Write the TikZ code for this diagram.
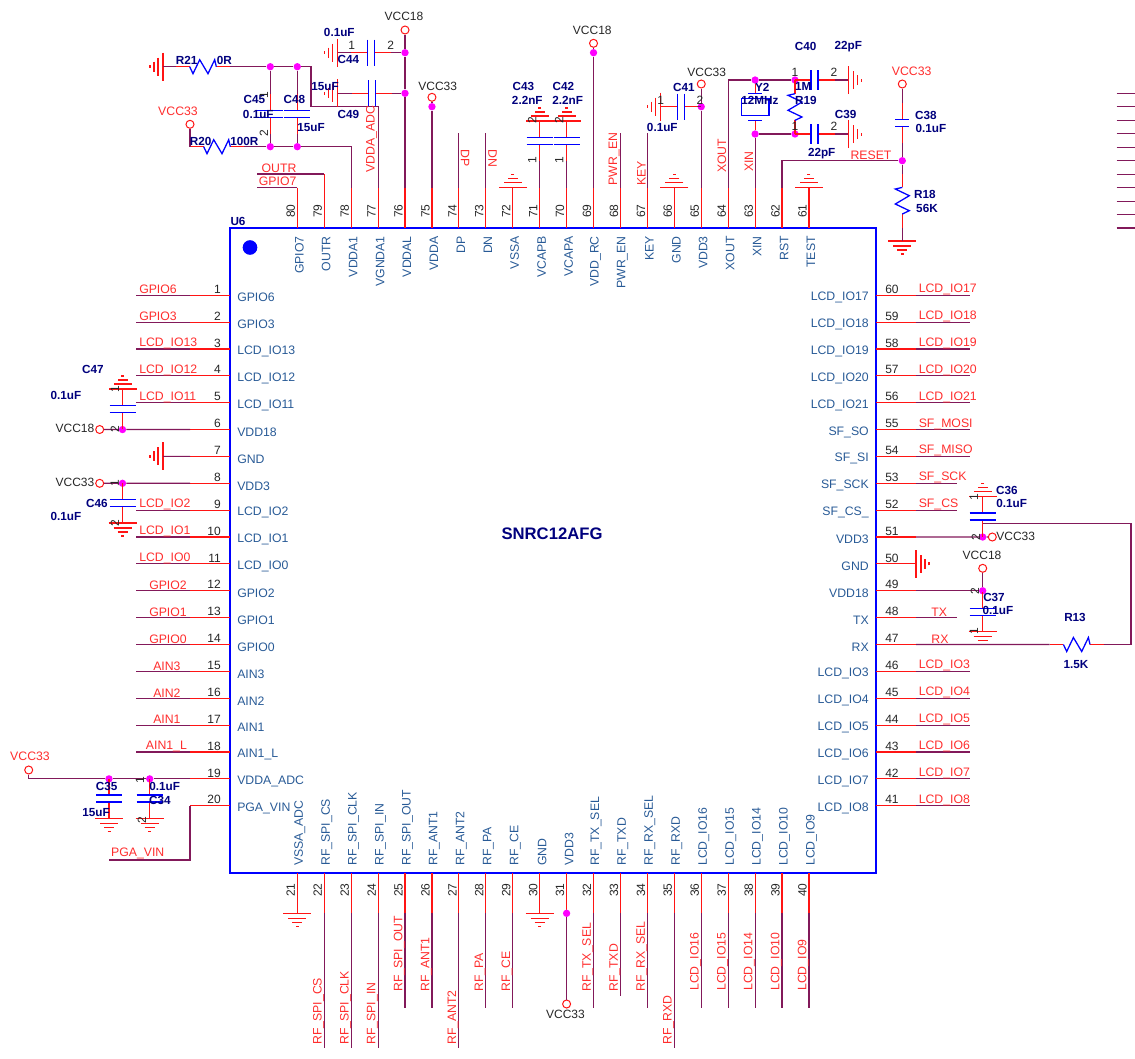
\documentclass[tikz,border=0pt]{standalone}
\usepackage{fontspec}
\setmainfont{Liberation Sans}
\usepackage{tikz}
\definecolor{wirec}{RGB}{130,25,90}
\definecolor{pinc}{RGB}{255,20,20}
\definecolor{namec}{RGB}{40,90,150}
\definecolor{netc}{RGB}{255,45,45}
\definecolor{refc}{RGB}{0,0,125}
\definecolor{dotc}{RGB}{255,0,255}
\tikzset{
  pics/gndsym/.style={code={
    \coordinate (-o) at (0,0);
    \draw[pin] (-14,0) -- (14,0) (-9,5) -- (9,5) (-5,9) -- (5,9) (-1.5,13) -- (1.5,13);}},
  pics/capsym/.style={code={
    \coordinate (-a) at (-20,0);
    \coordinate (-b) at (20,0);
    \draw[pin] (-a) -- (-3.5,0) (3.5,0) -- (-b);
    \draw[part] (-3.5,-#1/2) -- (-3.5,#1/2) (3.5,-#1/2) -- (3.5,#1/2);}},
  pics/capsym/.default=26,
  pics/ressym/.style={code={
    \coordinate (-a) at (-27,0);
    \coordinate (-b) at (27,0);
    \draw[pin] (-a) -- (-13.3,0) (13.3,0) -- (-b);
    \draw[part] (-13.3,0) -- (-10,7) -- (-3.3,-7) -- (5,7) -- (11.7,-7) -- (13.3,0);}}
}
\begin{document}
\begin{tikzpicture}[x=0.75pt,y=-0.75pt,
    pin/.style={pinc,line width=0.85pt},
    wire/.style={wirec,line width=0.85pt},
    part/.style={blue,line width=0.95pt},
    port/.style={circle,draw=pinc,line width=0.75pt,fill=white,minimum size=6pt,inner sep=0pt},
    dot/.style={circle,fill=dotc,minimum size=5.5pt,inner sep=0pt},
    chip/.style={draw=blue,line width=1.1pt,minimum width=484.5pt,minimum height=483.75pt,inner sep=0pt},
    xtal/.style={draw=blue,line width=0.95pt,minimum width=20.8pt,minimum height=13pt,inner sep=0pt},
    pname/.style={text=namec,inner sep=0pt,font=\fontsize{9.2}{11}\selectfont},
    pnum/.style={text=black!85,inner sep=0pt,font=\fontsize{9}{11}\selectfont},
    netl/.style={text=netc,inner sep=0pt,font=\fontsize{9.2}{11}\selectfont},
    pwr/.style={text=black!85,inner sep=0pt,font=\fontsize{9}{11}\selectfont},
    ref/.style={text=refc,inner sep=0pt,font=\fontsize{8.8}{11}\selectfont\bfseries}]
  \useasboundingbox (0,0) rectangle (1135,1058);
  \node[chip] (U6) at (553,550.5) {};
  \node[inner sep=0pt,text=refc,font=\fontsize{12.5}{14}\selectfont\bfseries] (title) at (552,534) {SNRC12AFG};
  \node[circle,fill=blue,minimum size=11pt,inner sep=0pt] (mark) at (250,247.5) {};

  % pins, left side
  \foreach \n/\lab in {1/GPIO6,2/GPIO3,3/LCD\_IO13,4/LCD\_IO12,5/LCD\_IO11,6/VDD18,7/GND,8/VDD3,9/LCD\_IO2,10/LCD\_IO1,
      11/LCD\_IO0,12/GPIO2,13/GPIO1,14/GPIO0,15/AIN3,16/AIN2,17/AIN1,18/AIN1\_L,19/VDDA\_ADC,20/PGA\_VIN}{
    \pgfmathsetmacro\py{295.2+26.87*(\n-1)}
    \coordinate (a\n) at (230,\py);
    \coordinate (b\n) at (190,\py);
    \draw[pin] (a\n) -- (b\n);
    \node[pnum,anchor=east] (n\n) at (221,\py-6) {\n};
    \node[pname,anchor=west] (t\n) at (237,\py+2.5) {\lab};
  }
  % pins, right side
  \foreach \n/\lab in {60/LCD\_IO17,59/LCD\_IO18,58/LCD\_IO19,57/LCD\_IO20,56/LCD\_IO21,55/SF\_SO,54/SF\_SI,53/SF\_SCK,52/SF\_CS\_,51/VDD3,
      50/GND,49/VDD18,48/TX,47/RX,46/LCD\_IO3,45/LCD\_IO4,44/LCD\_IO5,43/LCD\_IO6,42/LCD\_IO7,41/LCD\_IO8}{
    \pgfmathsetmacro\py{295.2+26.87*(60-\n)}
    \coordinate (a\n) at (876,\py);
    \coordinate (b\n) at (916,\py);
    \draw[pin] (a\n) -- (b\n);
    \node[pnum,anchor=west] (n\n) at (885,\py-6) {\n};
    \node[pname,anchor=east] (t\n) at (869,\py+2.5) {\lab};
  }
  % pins, top side
  \foreach \n/\lab in {80/GPIO7,79/OUTR,78/VDDA1,77/VGNDA1,76/VDDAL,75/VDDA,74/DP,73/DN,72/VSSA,71/VCAPB,
      70/VCAPA,69/VDD\_RC,68/PWR\_EN,67/KEY,66/GND,65/VDD3,64/XOUT,63/XIN,62/RST,61/TEST}{
    \pgfmathsetmacro\px{297.3+26.93*(80-\n)}
    \coordinate (a\n) at (\px,228);
    \coordinate (b\n) at (\px,187.7);
    \draw[pin] (a\n) -- (b\n);
    \node[pnum,rotate=90] (n\n) at (\px-6.5,211) {\n};
    \node[pname,rotate=90,anchor=east] (t\n) at (\px+2,236) {\lab};
  }
  % pins, bottom side
  \foreach \n/\lab in {21/VSSA\_ADC,22/RF\_SPI\_CS,23/RF\_SPI\_CLK,24/RF\_SPI\_IN,25/RF\_SPI\_OUT,26/RF\_ANT1,27/RF\_ANT2,28/RF\_PA,29/RF\_CE,30/GND,
      31/VDD3,32/RF\_TX\_SEL,33/RF\_TXD,34/RF\_RX\_SEL,35/RF\_RXD,36/LCD\_IO16,37/LCD\_IO15,38/LCD\_IO14,39/LCD\_IO10,40/LCD\_IO9}{
    \pgfmathsetmacro\px{297.3+26.93*(\n-21)}
    \coordinate (a\n) at (\px,873);
    \coordinate (b\n) at (\px,913.3);
    \draw[pin] (a\n) -- (b\n);
    \node[pnum,rotate=90] (n\n) at (\px-6.5,890) {\n};
    \node[pname,rotate=90,anchor=west] (t\n) at (\px+2.5,866) {\lab};
  }

  % plain nets, left
  \foreach \n/\lab/\lx in {1/GPIO6/139,2/GPIO3/139,3/LCD\_IO13/139,4/LCD\_IO12/139,5/LCD\_IO11/139,9/LCD\_IO2/139,10/LCD\_IO1/139,11/LCD\_IO0/139,
      12/GPIO2/149,13/GPIO1/149,14/GPIO0/149,15/AIN3/153,16/AIN2/153,17/AIN1/153,18/AIN1\_L/145.7}{
    \pgfmathsetmacro\py{295.2+26.87*(\n-1)}
    \coordinate (e\n) at (136,\py);
    \draw[wire] (b\n) -- (e\n);
    \node[netl,anchor=west] (w\n) at (\lx,\py-5.5) {\lab};
  }
  % plain nets, right
  \foreach \n/\lab/\ex in {60/LCD\_IO17/970,59/LCD\_IO18/970,58/LCD\_IO19/970,57/LCD\_IO20/970,56/LCD\_IO21/970,55/SF\_MOSI/970,54/SF\_MISO/970,
      53/SF\_SCK/956.7,52/SF\_CS/956.7,46/LCD\_IO3/970,45/LCD\_IO4/970,44/LCD\_IO5/970,43/LCD\_IO6/970,42/LCD\_IO7/970,41/LCD\_IO8/970}{
    \pgfmathsetmacro\py{295.2+26.87*(60-\n)}
    \coordinate (e\n) at (\ex,\py);
    \draw[wire] (b\n) -- (e\n);
    \node[netl,anchor=west] (w\n) at (918.5,\py-5.5) {\lab};
  }
  % plain nets, bottom
  \foreach \n/\lab/\ey/\ly in {22/RF\_SPI\_CS/1048/1045,23/RF\_SPI\_CLK/1048/1045,24/RF\_SPI\_IN/1048/1045,25/RF\_SPI\_OUT/1007.7/992,
      26/RF\_ANT1/1007.7/992,27/RF\_ANT2/1048/1045,28/RF\_PA/1007.7/992,29/RF\_CE/1007.7/992,32/RF\_TX\_SEL/1007.7/992,33/RF\_TXD/995.7/992,
      34/RF\_RX\_SEL/1007.7/992,35/RF\_RXD/1048/1045,36/LCD\_IO16/1007.7/991,37/LCD\_IO15/1007.7/991,38/LCD\_IO14/1007.7/991,
      39/LCD\_IO10/1007.7/991,40/LCD\_IO9/1007.7/991}{
    \pgfmathsetmacro\px{297.3+26.93*(\n-21)}
    \coordinate (e\n) at (\px,\ey);
    \draw[wire] (b\n) -- (e\n);
    \node[netl,rotate=90,anchor=west] (w\n) at (\px-5.7,\ly) {\lab};
  }

  % stubs at the page edge
  \foreach \i in {0,...,10}{
    \pgfmathsetmacro\py{93.3+13.47*\i}
    \coordinate (x\i) at (1116.7,\py);
    \coordinate (z\i) at (1135,\py);
    \draw[wire] (x\i) -- (z\i);
  }

  % grounds on pins
  \pic[rotate=180] (g72) at (b72) {gndsym};
  \pic[rotate=180] (g66) at (b66) {gndsym};
  \pic[rotate=180] (g61) at (b61) {gndsym};
  \pic (g21) at (b21) {gndsym};
  \pic (g30) at (b30) {gndsym};
  \pic[rotate=90] (g50) at (b50) {gndsym};
  \pic[rotate=-90] (g7) at (163,456.4) {gndsym};
  \draw[wire] (b7) -- (g7-o);

  % left supply pins
  \node[port] (p6) at (99.7,429.5) {};
  \node[dot] (d6) at (b6 -| 122.5,0) {};
  \node[port] (p8) at (99.7,483.3) {};
  \node[dot] (d8) at (b8 -| 122.5,0) {};
  \draw[wire] (b6) -- (d6) -- (p6);
  \draw[wire] (b8) -- (d8) -- (p8);
  \pic[rotate=90] (c47) at (122.5,409) {capsym};
  \pic[rotate=180] at (c47-b) {gndsym};
  \pic[rotate=90] (c46) at (122.5,503) {capsym};
  \pic at (c46-a) {gndsym};

  % analog supply
  \node[port] (p19) at (28.7,770) {};
  \node[dot] (d35) at (b19 -| 109,0) {};
  \node[dot] (d34) at (b19 -| 149.7,0) {};
  \coordinate (k19) at (p19 |- b19);
  \draw[wire] (b19) -- (d34) -- (d35) -- (k19) -- (p19);
  \pic[rotate=90] (c35) at (109,798.6) {capsym};
  \pic at (c35-a) {gndsym};
  \pic[rotate=90] (c34) at (149.7,798.6) {capsym};
  \pic at (c34-a) {gndsym};
  \coordinate (k20a) at (190,860);
  \coordinate (k20b) at (109,860);
  \draw[wire] (b20) -- (k20a) -- (k20b);

  % right supply pins
  \node[dot] (d51) at (b51 -| 982.7,0) {};
  \node[port] (p51) at (992.3,537) {};
  \draw[wire] (b51) -- (d51) -- (p51);
  \pic[rotate=90] (c36) at (982.7,516.5) {capsym};
  \pic[rotate=180] at (c36-b) {gndsym};
  \node[dot] (d49) at (b49 -| 982.7,0) {};
  \node[port] (p49) at (982.7,568.3) {};
  \draw[wire] (b49) -- (d49) -- (p49);
  \pic[rotate=90] (c37) at (982.7,611.7) {capsym};
  \pic at (c37-a) {gndsym};
  \draw[wire] (b48) -- ++(40.7,0) coordinate (e48);
  \pic (r13) at (1076.7,644.5) {ressym};
  \coordinate (k47a) at (1131,644.5);
  \coordinate (k47b) at (1131,523.3);
  \coordinate (k47c) at (982.7,523.3);
  \draw[wire] (b47) -- (r13-a);
  \draw[wire] (r13-b) -- (k47a) -- (k47b) -- (k47c);

  % bottom supply pin
  \node[dot] (d31) at (b31) {};
  \node[port] (p31) at (a31 |- 0,1004) {};
  \draw[wire] (d31) -- (p31);

  % R20, R21 and the analog caps
  \pic[rotate=-90] (g21r) at (163,66.7) {gndsym};
  \pic (r21) at (203,66.7) {ressym};
  \node[dot] (d45a) at (270.3,66.7) {};
  \node[dot] (d48a) at (297.3,66.7) {};
  \coordinate (k77a) at (311,66.7);
  \coordinate (k77b) at (311,106.7);
  \coordinate (k77c) at (b77 |- k77b);
  \draw[wire] (g21r-o) -- (r21-a);
  \draw[wire] (r21-b) -- (d45a) -- (d48a) -- (k77a) -- (k77b) -- (k77c) -- (b77);
  \node[port] (p78) at (190,124.3) {};
  \pic (r20) at (217,146.7) {ressym};
  \node[dot] (d45b) at (270.3,146.7) {};
  \node[dot] (d48b) at (297.3,146.7) {};
  \coordinate (k78) at (b78 |- d48b);
  \draw[wire] (p78) -- (r20-a);
  \draw[wire] (r20-b) -- (d45b) -- (d48b) -- (k78) -- (b78);
  \pic[rotate=90] (c45) at (270.3,113.7) {capsym};
  \pic[rotate=90] (c48) at (297.3,113.7) {capsym};
  \draw[wire] (d45a) -- (c45-b) (c45-a) -- (d45b);
  \draw[wire] (d48a) -- (c48-b) (c48-a) -- (d48b);

  % OUTR, GPIO7
  \coordinate (k80) at (256.7,187.7);
  \draw[wire] (b80) -- (k80);
  \coordinate (k79a) at (b79 |- 0,174);
  \coordinate (k79b) at (256.7,174);
  \draw[pin] (b79) -- (k79a);
  \draw[wire] (k79a) -- (k79b);

  % VCC18 on pin 76
  \node[port] (p76) at (b76 |- 0,30) {};
  \node[dot] (d76a) at (b76 |- 0,52.7) {};
  \node[dot] (d76b) at (b76 |- 0,93.3) {};
  \draw[wire] (b76) -- (d76b) -- (d76a) -- (p76);
  \pic[rotate=-90] (g44) at (337.7,52.7) {gndsym};
  \pic (c44) at (370.8,52.7) {capsym};
  \draw[wire] (g44-o) -- (c44-a) (c44-b) -- (d76a);
  \pic[rotate=-90] (g49) at (337.7,93.3) {gndsym};
  \pic (c49) at (372,93.3) {capsym};
  \draw[wire] (g49-o) -- (c49-a) (c49-b) -- (d76b);

  % VCC33 on pin 75, open nets
  \node[port] (p75) at (b75 |- 0,97.3) {};
  \node[dot] (d75) at (b75 |- 0,106.7) {};
  \draw[wire] (b75) -- (d75) -- (p75);
  \coordinate (e74) at (b74 |- 0,133.3);
  \coordinate (e73) at (b73 |- 0,133.3);
  \coordinate (e68) at (b68 |- 0,133.3);
  \coordinate (e67) at (b67 |- 0,133.3);
  \draw[wire] (b74) -- (e74) (b73) -- (e73) (b68) -- (e68) (b67) -- (e67);

  % VCAP caps
  \pic[rotate=90] (c43) at (b71 |- 0,141) {capsym};
  \pic[rotate=90] (c42) at (b70 |- 0,141) {capsym};
  \pic[rotate=180] at (c43-b) {gndsym};
  \pic[rotate=180] at (c42-b) {gndsym};
  \draw[wire] (c43-a) -- (b71) (c42-a) -- (b70);

  % VCC18 on pin 69
  \node[port] (p69) at (b69 |- 0,43.3) {};
  \node[dot] (d69) at (b69 |- 0,52.7) {};
  \draw[wire] (b69) -- (d69) -- (p69);

  % VDD3, pin 65
  \node[port] (p65) at (b65 |- 0,84) {};
  \node[dot] (d65) at (b65 |- 0,106.7) {};
  \draw[wire] (b65) -- (d65) -- (p65);
  \pic[rotate=-90] (g41) at (660.7,106.7) {gndsym};
  \pic (c41) at (680.7,106.7) {capsym};
  \draw[wire] (g41-o) -- (c41-a) (c41-b) -- (d65);

  % crystal
  \node[xtal] (y2) at (b63 |- 0,107) {};
  \node[dot] (d63a) at (b63 |- 0,80) {};
  \node[dot] (d63b) at (b63 |- 0,134) {};
  \node[dot] (d19a) at (795,80) {};
  \node[dot] (d19b) at (795,134) {};
  \coordinate (k64) at (b64 |- d63a);
  \coordinate (y2t) at (b63 |- 0,93.3);
  \coordinate (y2b) at (b63 |- 0,120.7);
  \draw[wire] (b64) -- (k64) -- (d63a) -- (d19a);
  \draw[wire] (b63) -- (d63b) -- (d19b);
  \draw[pin] (d63a) -- (y2t) (y2b) -- (d63b);
  \draw[part] (y2t) ++(-7,0) -- ++(14,0);
  \draw[part] (y2b) ++(-7,0) -- ++(14,0);
  \pic[rotate=90] (r19) at (795,107) {ressym};
  \pic (c40) at (814.5,80) {capsym=20};
  \pic[rotate=90] (g40) at (848.3,80) {gndsym};
  \draw[wire] (c40-b) -- (g40-o);
  \pic (c39) at (814.5,134) {capsym=20};
  \pic[rotate=90] (g39) at (848.3,134) {gndsym};
  \draw[wire] (c39-b) -- (g39-o);

  % reset
  \node[port] (p38) at (902.3,84) {};
  \pic[rotate=90] (c38) at (902.3,123) {capsym=14};
  \node[dot] (d62) at (902.3,160.7) {};
  \coordinate (k62) at (b62 |- d62);
  \pic[rotate=90] (r18) at (902.3,200.7) {ressym};
  \pic (g18) at (902.3,241) {gndsym};
  \draw[wire] (p38) -- (c38-b);
  \draw[wire] (c38-a) -- (d62);
  \draw[wire] (b62) -- (k62) -- (d62) -- (r18-b);
  \draw[wire] (r18-a) -- (g18-o);

  % net labels that are not on a plain pin net
  \foreach \x/\y/\t [count=\i] in {277.7/181.5/GPIO7,279/168.5/OUTR,178/111/VCC33,137.7/853/PGA\_VIN,30/756.5/VCC33,
      871/155/RESET,911.7/71.5/VCC33,939.3/612/TX,940/639/RX}{
    \node[netl] (net\i) at (\x,\y) {\t};
  }
  \foreach \x/\y/\t/\r [count=\i] in {371.5/139/VDDA\_ADC/90,465/158.3/DP/-90,492.7/158.3/DN/-90,614/159/PWR\_EN/90,
      641.5/173.3/KEY/90,722/155.7/XOUT/90,749/161.7/XIN/90}{
    \node[netl,rotate=\r] (rnet\i) at (\x,\y) {\t};
  }
  % power names
  \foreach \x/\y/\t [count=\i] in {75/428.3/VCC18,75/482/VCC33,1015.7/536/VCC33,982/555/VCC18,565.5/1014.7/VCC33,
      404/16.7/VCC18,437.7/86.7/VCC33,592.3/30/VCC18,706.7/72.7/VCC33}{
    \node[pwr] (pwr\i) at (\x,\y) {\t};
  }
  % part names and values
  \foreach \x/\y/\t [count=\i] in {238/221/U6,93/369/C47,66/395.7/0.1uF,97/503.3/C46,66/516.7/0.1uF,
      106.7/786/C35,96/812.7/15uF,164.7/786/0.1uF,160/800/C34,
      339.3/32.7/0.1uF,348.3/59.3/C44,325/86.7/15uF,348.3/114/C49,
      254.3/99.3/C45,258.3/114/0.1uF,294.3/99.7/C48,311/127.3/15uF,
      186.7/60/R21,224.3/60/0R,200.7/141/R20,244.3/141/100R,
      523.3/86.7/C43,527.3/100/2.2nF,563.3/86.7/C42,567.7/100/2.2nF,
      684/87.3/C41,662.3/127.3/0.1uF,762.3/87.3/Y2,760/100/12MHz,
      805.7/46.7/C40,848.3/46.7/22pF,803.3/86.7/1M,806/100/R19,
      845.7/114/C39,821.7/154/22pF,926/115/C38,931/128/0.1uF,925/194/R18,927/208/56K,
      1007/490/C36,1011.7/503.3/0.1uF,994/597.7/C37,998/610.7/0.1uF,1075/617.7/R13,1076/664.3/1.5K}{
    \node[ref] (ref\i) at (\x,\y) {\t};
  }
  % part pin numbers
  \foreach \x/\y/\t [count=\i] in {351.7/45.7/1,390.7/45.7/2,660.7/100/1,700/100/2,795/72.3/1,834/72.3/2,795/126/1,834/126/2}{
    \node[pnum] (cp\i) at (\x,\y) {\t};
  }
  \foreach \x/\y/\t [count=\i] in {264/133.3/2,264/95/1,532.3/120/2,532.3/160/1,559.2/120/2,559.2/160/1,115/429/2,115/389/1,
      114.7/483.5/1,115/523/2,140/780/1,142/819.7/2,974/497/1,976/537/2,975/591/2,974/631/1}{
    \node[pnum,rotate=90] (rcp\i) at (\x,\y) {\t};
  }
\end{tikzpicture}
\end{document}
